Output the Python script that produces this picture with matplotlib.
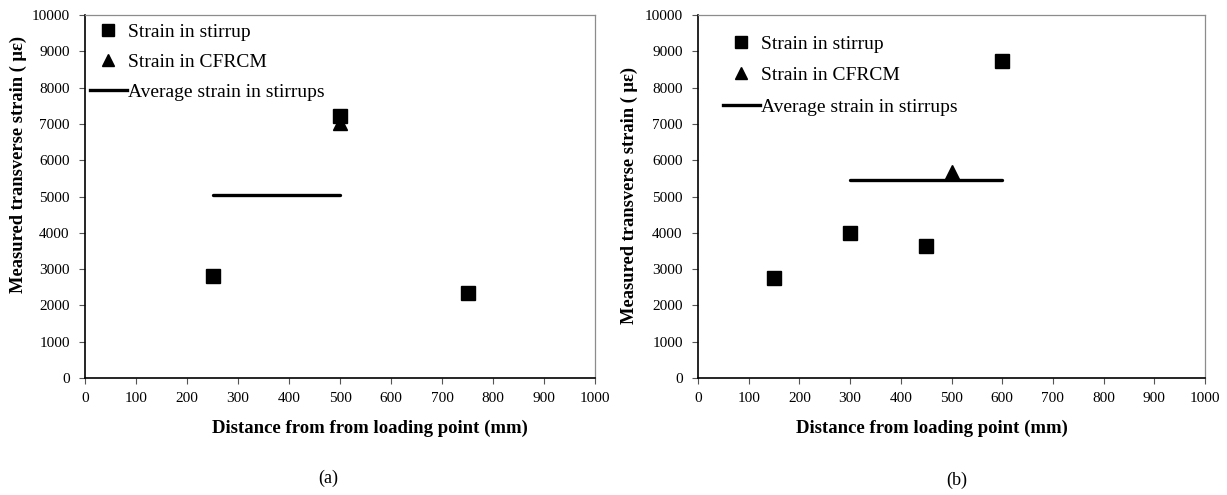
import matplotlib.pyplot as plt
from matplotlib.lines import Line2D

plt.rcParams['font.family'] = ['Liberation Serif', 'DejaVu Serif']

# panel (a)
a_stirrup_x = [250, 500, 750]
a_stirrup_y = [2800, 7230, 2350]
a_cfrcm_x = [500]
a_cfrcm_y = [7030]
a_avg_x = [250, 500]
a_avg_y = [5030, 5030]

# panel (b)
b_stirrup_x = [150, 300, 450, 600]
b_stirrup_y = [2750, 4000, 3650, 8740]
b_cfrcm_x = [500]
b_cfrcm_y = [5680]
b_avg_x = [300, 600]
b_avg_y = [5450, 5450]

xlabels = ['Distance from from loading point (mm)', 'Distance from loading point (mm)']
captions = ['(a)', '(b)']
labels = ['Strain in stirrup', 'Strain in CFRCM', 'Average strain in stirrups']

W, H = 1227, 495
fig = plt.figure(figsize=(W / 100, H / 100), dpi=100)
ax_a = fig.add_axes([85 / W, 117 / H, 510 / W, 363 / H])  # [left, bottom, width, height]
ax_b = fig.add_axes([698 / W, 117 / H, 507 / W, 363 / H])

panels = [
    (ax_a, a_stirrup_x, a_stirrup_y, a_cfrcm_x, a_cfrcm_y, a_avg_x, a_avg_y),
    (ax_b, b_stirrup_x, b_stirrup_y, b_cfrcm_x, b_cfrcm_y, b_avg_x, b_avg_y),
]
# per-panel placement
ylab_pos = [(-0.114, 0.587), (-0.118, 0.504)]
xlab_x = [0.559, 0.462]
leg_anchor = [(0.0098, 0.978), (0.049, 0.945)]
leg_spacing = [0.65, 0.72]
cap_pos = [(328 / W, 1 - 478 / H), (957 / W, 1 - 480 / H)]

for i, (ax, sx, sy, cx, cy, lx, ly) in enumerate(panels):
    ax.plot(lx, ly, c='black', lw=2.4, solid_capstyle='round', zorder=2)
    ax.plot(cx, cy, c='black', marker='^', ms=9.5, ls='none', zorder=3)
    ax.plot(sx, sy, c='black', marker='s', ms=9.4, ls='none', zorder=4)
    ax.set_xlim(0, 1000)
    ax.set_ylim(0, 10000)
    ax.set_xticks(range(0, 1001, 100))
    ax.set_yticks(range(0, 10001, 1000))
    ax.tick_params(direction='out', length=4, width=0.8, labelsize=11, colors='#555555',
                   labelcolor='black')
    ax.tick_params(axis='y', pad=7)
    ax.tick_params(axis='x', pad=6)
    for side in ['top', 'right']:
        ax.spines[side].set_color('#8c8c8c')
        ax.spines[side].set_linewidth(0.9)
    for side in ['left', 'bottom']:
        ax.spines[side].set_color('black')
        ax.spines[side].set_linewidth(1.2)
    ax.set_xlabel(xlabels[i], fontsize=13.5, fontweight='bold')
    ax.xaxis.set_label_coords(xlab_x[i], -0.116)
    ax.set_ylabel('Measured transverse strain ( \u03bc\u03b5)', fontsize=13.3, fontweight='bold')
    ax.yaxis.set_label_coords(*ylab_pos[i])
    handles = [Line2D([], [], c='black', marker='s', ms=8.4, ls='none'),
               Line2D([], [], c='black', marker='^', ms=8.6, ls='none'),
               Line2D([], [], c='black', lw=2.4)]
    ax.legend(handles, labels, loc='upper left', bbox_to_anchor=leg_anchor[i], frameon=False,
              fontsize=14, handlelength=1.9, handletextpad=0.05, labelspacing=leg_spacing[i],
              borderpad=0, borderaxespad=0)
    fig.text(cap_pos[i][0], cap_pos[i][1], captions[i], ha='center', va='center', fontsize=13)

fig.savefig('out.png', dpi=100)
